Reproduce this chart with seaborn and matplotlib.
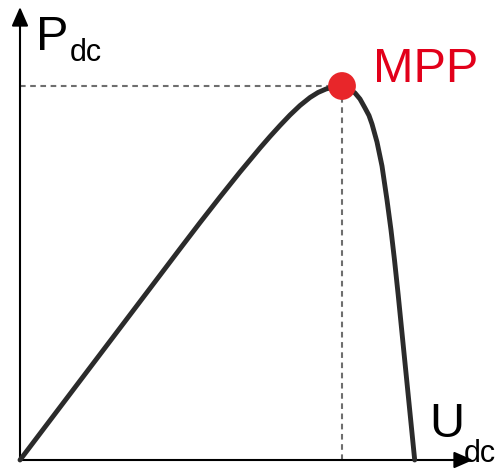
import numpy as np
import pandas as pd
import matplotlib
matplotlib.use("Agg")
import matplotlib.pyplot as plt
import seaborn as sns

# P-U characteristic of a PV generator (arbitrary units)
u_dc = [0, 40, 80, 120, 160, 180, 200, 220, 240, 250, 260, 270, 280, 290,
        298, 306, 314, 322, 328, 335, 340, 345, 349, 352, 357, 362, 367,
        371, 374.5, 378.2, 381.7, 384.7, 388.2, 391.2, 394.7]
p_dc = [0, 52.8, 105.6, 158.4, 211.2, 237.4, 263, 288, 312, 323.5, 334.5,
        345, 354.5, 362.5, 367.5, 371, 373, 374, 372, 367, 361, 352, 344.5,
        336, 318, 294, 260, 230, 200, 165, 130, 100, 65, 35, 0]

mpp_u = [322]
mpp_p = [374]

axis_len = 453

sns.set_theme(style="white")
plt.rcParams["font.family"] = ["Liberation Sans", "DejaVu Sans"]

fig = plt.figure(figsize=(5.03, 4.69), dpi=100)
ax = fig.add_axes([0, 0, 1, 1])
ax.set_xlim(-20, 483)
ax.set_ylim(-9, 460)
ax.axis("off")

curve = pd.DataFrame({"U": u_dc, "P": p_dc})

# guide lines to the maximum power point
dash = (0, (2.7, 2.2))
ax.plot([0, mpp_u[0]], [mpp_p[0], mpp_p[0]], color="#6e6e6e", lw=1.5, ls=dash, zorder=1)
ax.plot([mpp_u[0], mpp_u[0]], [0, mpp_p[0]], color="#6e6e6e", lw=1.5, ls=dash, zorder=1)

# axes with arrow heads
arrow = dict(arrowstyle="-|>,head_length=0.8,head_width=0.35", color="black",
             lw=1.5, mutation_scale=14.4, shrinkA=0, shrinkB=0)
ax.annotate("", xy=(0, axis_len), xytext=(0, 0), arrowprops=arrow, zorder=2)
ax.annotate("", xy=(axis_len, 0), xytext=(0, 0), arrowprops=arrow, zorder=2)

sns.lineplot(data=curve, x="U", y="P", sort=False, color="#2b2b2b", lw=3.5,
             ax=ax, zorder=3, solid_capstyle="round", solid_joinstyle="round")

sns.scatterplot(x=mpp_u, y=mpp_p, s=20 ** 2, color="#e8262a", edgecolor="none",
                ax=ax, zorder=4)

ax.text(16, 460 - 50, "P", fontsize=35, ha="left", va="baseline", color="black")
ax.text(50, 460 - 61, "dc", fontsize=22, ha="left", va="baseline", color="black")
ax.text(409, 460 - 437, "U", fontsize=35, ha="left", va="baseline", color="black")
ax.text(444, 460 - 462, "dc", fontsize=22, ha="left", va="baseline", color="black")
ax.text(353, 460 - 82, "MPP", fontsize=35, ha="left", va="baseline", color="#e2001a")

fig.savefig("out.png", dpi=100)
